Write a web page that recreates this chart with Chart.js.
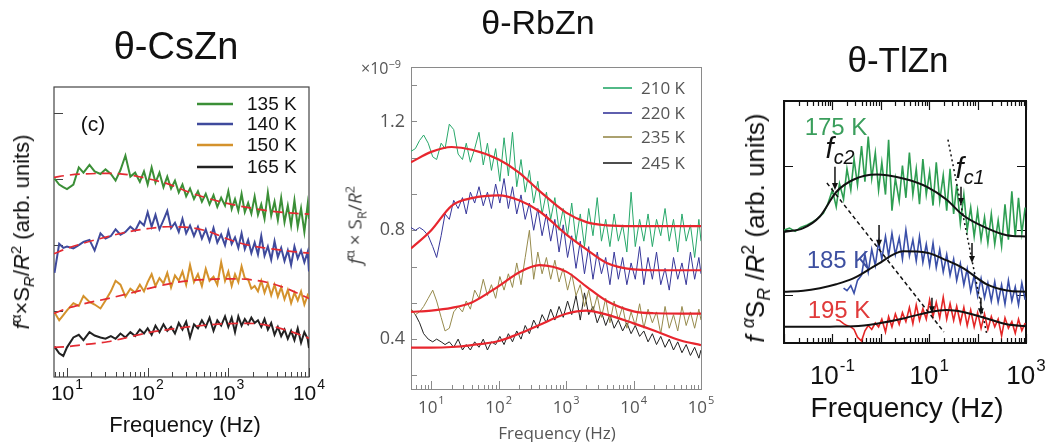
<!DOCTYPE html>
<html>
<head>
<meta charset="utf-8">
<script src="https://cdn.jsdelivr.net/npm/chart.js@4.4.1/dist/chart.umd.min.js"></script>
<style>
  body { margin: 0; background: #fff; }
  #wrap { position: relative; width: 1063px; height: 442px; overflow: hidden; font-family: "Liberation Sans", Arial, sans-serif; }
  canvas { position: absolute; left: 0; top: 0; }
  .t { position: absolute; white-space: nowrap; transform: translate(-50%, -50%); line-height: 1; color: #111; }
  .rot { transform: translate(-50%, -50%) rotate(-90deg); }
  .t sup, .t sub { font-size: 68%; line-height: 0; }
  .light { font-family: "Open Sans", "DejaVu Sans", sans-serif; color: #555; }
</style>
</head>
<body>
<div id="wrap">
  <canvas id="cs" width="1063" height="442"></canvas>
  <canvas id="rb" width="1063" height="442"></canvas>
  <canvas id="tl" width="1063" height="442"></canvas>

  <div class="t" style="left:176px;top:46px;font-size:38px">θ-CsZn</div>
  <div class="t rot" style="left:22px;top:232px;font-size:22px"><i>f</i><sup>α</sup>×S<sub><i>R</i></sub>/<i>R</i><sup>2</sup> (arb. units)</div>
  <div class="t" style="left:185px;top:425px;font-size:22px">Frequency (Hz)</div>
  <div class="t" style="left:93px;top:123px;font-size:21px">(c)</div>

  <div class="t" style="left:538px;top:22px;font-size:34px">θ-RbZn</div>
  <div class="t light" style="left:381px;top:68px;font-size:16px">×10<sup>−9</sup></div>
  <div class="t rot light" style="left:355px;top:225px;font-size:19px;color:#444"><i>f</i><sup>α</sup> × S<sub>R</sub>/<i>R</i><sup>2</sup></div>
  <div class="t light" style="left:557px;top:432px;font-size:17px">Frequency (Hz)</div>

  <div class="t" style="left:898px;top:59px;font-size:35px">θ-TlZn</div>
  <div class="t rot" style="left:755px;top:228px;font-size:26px"><i>f</i> <sup><i>α</i></sup>S<sub><i>R</i></sub> /<i>R</i><sup>2</sup> (arb. units)</div>
  <div class="t" style="left:907px;top:408px;font-size:28px">Frequency (Hz)</div>
  <div class="t" style="left:836px;top:127px;font-size:24px;color:#3a9e5c">175 K</div>
  <div class="t" style="left:838px;top:260px;font-size:24px;color:#3d4fa0">185 K</div>
  <div class="t" style="left:839px;top:310px;font-size:24px;color:#e03a3a">195 K</div>
  <div class="t" style="left:840px;top:148px;font-size:29px"><i>f</i><sub><i>c2</i></sub></div>
  <div class="t" style="left:970px;top:168px;font-size:29px"><i>f</i><sub><i>c1</i></sub></div>
</div>

<script>
// ---- θ-CsZn : noise spectra 135–165 K ----
const csFreq = [7, 8, 9, 10, 12, 14, 16, 19, 22, 26, 30, 35, 40, 46, 53, 61, 70, 80, 90,
  100, 112, 125, 140, 157, 175, 195, 218, 243, 270, 300, 335, 375, 420, 470, 525, 585, 655, 730, 815, 910,
  1000, 1100, 1210, 1330, 1460, 1600, 1760, 1930, 2120, 2330, 2560, 2810, 3090, 3400, 3740, 4110, 4520,
  4970, 5460, 6000, 6600, 7250, 7970, 8760, 9630, 10000];
const cs135 = [3.01, 2.92, 2.88, 2.85, 2.92, 3.18, 3.10, 3.22, 3.12, 3.08, 3.15, 3.08, 2.98, 3.14, 3.36, 3.04, 3.10, 2.96, 3.12,
  2.92, 3.18, 2.95, 3.10, 2.88, 3.04, 2.86, 2.98, 2.80, 2.92, 2.74, 2.86, 2.70, 2.82, 2.66, 2.78, 2.62, 2.76, 2.58, 2.72, 2.60,
  2.82, 2.55, 2.70, 2.52, 2.78, 2.50, 2.64, 2.48, 2.74, 2.46, 2.62, 2.40, 2.80, 2.45, 2.66, 2.38, 2.72, 2.35, 2.60, 2.30,
  2.68, 2.28, 2.56, 2.20, 2.62, 2.40];
const cs140 = [1.58, 2.02, 1.96, 1.98, 1.95, 2.00, 2.05, 2.08, 1.92, 2.18, 2.10, 2.14, 2.24, 2.16, 2.20, 2.28, 2.22, 2.36, 2.30,
  2.50, 2.28, 2.46, 2.24, 2.38, 2.52, 2.26, 2.34, 2.20, 2.40, 2.18, 2.30, 2.14, 2.28, 2.10, 2.24, 2.06, 2.26, 2.04, 2.16, 2.00,
  2.22, 2.02, 2.12, 1.96, 2.18, 1.94, 2.08, 1.88, 2.04, 1.86, 2.14, 1.84, 1.98, 1.78, 2.06, 1.82, 1.96, 1.76, 1.92, 1.70,
  1.98, 1.80, 1.92, 1.74, 1.90, 1.60];
const cs150 = [0.98, 0.86, 0.94, 1.01, 1.12, 1.08, 1.23, 1.14, 1.10, 1.04, 1.16, 1.30, 1.46, 1.40, 1.22, 1.34, 1.28, 1.40, 1.30,
  1.44, 1.56, 1.38, 1.50, 1.42, 1.58, 1.36, 1.54, 1.46, 1.60, 1.40, 1.70, 1.44, 1.56, 1.38, 1.64, 1.46, 1.52, 1.40, 1.74, 1.46,
  1.60, 1.38, 1.56, 1.44, 1.68, 1.50, 1.48, 1.34, 1.38, 1.30, 1.46, 1.28, 1.42, 1.24, 1.40, 1.22, 1.36, 1.18, 1.32, 1.12,
  1.28, 1.16, 1.30, 1.10, 1.24, 1.20];
const cs165 = [0.46, 0.36, 0.32, 0.45, 0.60, 0.64, 0.56, 0.68, 0.63, 0.60, 0.58, 0.62, 0.58, 0.66, 0.60, 0.68, 0.62, 0.72, 0.66,
  0.74, 0.64, 0.78, 0.68, 0.80, 0.70, 0.76, 0.66, 0.82, 0.72, 0.84, 0.60, 0.80, 0.74, 0.86, 0.76, 0.90, 0.70, 0.86, 0.78, 0.92,
  0.76, 0.90, 0.68, 0.92, 0.78, 0.88, 0.80, 0.90, 0.82, 0.86, 0.76, 0.88, 0.72, 0.82, 0.64, 0.76, 0.62, 0.72, 0.58, 0.70,
  0.56, 0.74, 0.52, 0.68, 0.58, 0.44];
// fitted curves (dashed red)
const csFitFreq = [6.9, 10, 16, 32, 56, 100, 178, 316, 562, 1000, 1778, 3162, 5623, 10000];
const csFit135 = [3.03, 3.06, 3.08, 3.09, 3.07, 3.01, 2.93, 2.81, 2.71, 2.63, 2.57, 2.52, 2.49, 2.47];
const csFit140 = [1.87, 1.95, 2.03, 2.13, 2.20, 2.25, 2.28, 2.27, 2.21, 2.09, 2.00, 1.95, 1.91, 1.88];
const csFit150 = [0.965, 1.04, 1.11, 1.19, 1.26, 1.34, 1.41, 1.46, 1.48, 1.49, 1.48, 1.43, 1.33, 1.19];
const csFit165 = [0.45, 0.46, 0.49, 0.535, 0.60, 0.67, 0.72, 0.76, 0.79, 0.81, 0.815, 0.78, 0.70, 0.59];
const csExps = ['1', '2', '3', '4'];
const csYTicks = [1, 2, 3, 4];

// ---- θ-RbZn : noise spectra 210–245 K ----
const rbFreq = [5, 5.8, 6.7, 7.7, 9, 10.5, 12, 14, 16, 18.5,
  21.5, 25, 29, 33, 38, 44, 51, 59, 68, 78,
  90, 104, 120, 139, 160, 185, 214, 247, 285, 330,
  380, 440, 510, 590, 680, 785, 905, 1050, 1210, 1400,
  1620, 1870, 2160, 2500, 2890, 3340, 3860, 4460, 5150, 5950,
  6880, 7950, 9190, 10600, 12300, 14200, 16400, 19000, 21900, 25300,
  29300, 33800, 39100, 45200, 52200, 60300, 69700, 80500, 93000, 100000];
const rb210 = [1.09, 1.10, 1.13, 1.15, 1.12, 1.07, 1.06, 1.12, 1.10, 1.19,
  1.17, 1.08, 1.06, 1.12, 1.05, 1.10, 1.16, 1.04, 1.12, 1.02,
  1.10, 0.98, 1.14, 1.00, 1.16, 0.96, 1.06, 0.94, 1.02, 0.90,
  0.98, 0.86, 0.94, 0.84, 0.92, 0.80, 0.88, 0.78, 0.90, 0.76,
  0.86, 0.74, 0.88, 0.78, 0.92, 0.76, 0.84, 0.74, 0.86, 0.76,
  0.82, 0.72, 0.94, 0.74, 0.84, 0.76, 0.86, 0.74, 0.84, 0.78,
  0.88, 0.76, 0.84, 0.72, 0.86, 0.76, 0.82, 0.70, 0.84, 0.76];
const rb220 = [0.81, 0.80, 0.81, 0.80, 0.78, 0.74, 0.70, 0.78, 0.86, 0.84,
  0.91, 0.88, 0.92, 0.86, 0.94, 0.90, 0.96, 0.89, 0.94, 0.88,
  0.97, 0.90, 0.99, 0.88, 0.96, 0.86, 0.93, 0.84, 0.90, 0.80,
  0.88, 0.78, 0.86, 0.76, 0.84, 0.72, 0.82, 0.70, 0.78, 0.66,
  0.76, 0.64, 0.74, 0.62, 0.72, 0.64, 0.70, 0.60, 0.72, 0.62,
  0.70, 0.60, 0.68, 0.62, 0.74, 0.60, 0.70, 0.62, 0.72, 0.60,
  0.66, 0.58, 0.70, 0.62, 0.68, 0.60, 0.72, 0.62, 0.70, 0.64];
const rb235 = [0.51, 0.49, 0.50, 0.52, 0.55, 0.58, 0.54, 0.48, 0.43, 0.44,
  0.50, 0.52, 0.50, 0.54, 0.51, 0.58, 0.55, 0.62, 0.56, 0.60,
  0.55, 0.63, 0.58, 0.64, 0.59, 0.68, 0.60, 0.70, 0.80, 0.62,
  0.72, 0.64, 0.70, 0.62, 0.69, 0.61, 0.66, 0.58, 0.64, 0.56,
  0.60, 0.52, 0.58, 0.50, 0.56, 0.48, 0.55, 0.46, 0.54, 0.47,
  0.52, 0.44, 0.50, 0.45, 0.53, 0.44, 0.51, 0.46, 0.50, 0.42,
  0.52, 0.44, 0.49, 0.43, 0.52, 0.45, 0.50, 0.44, 0.51, 0.47];
const rb245 = [0.51, 0.49, 0.46, 0.42, 0.40, 0.39, 0.40, 0.39, 0.38, 0.39,
  0.37, 0.40, 0.36, 0.38, 0.36, 0.39, 0.37, 0.40, 0.36, 0.39,
  0.38, 0.41, 0.38, 0.42, 0.39, 0.43, 0.40, 0.45, 0.42, 0.47,
  0.44, 0.49, 0.46, 0.51, 0.47, 0.52, 0.48, 0.54, 0.49, 0.56,
  0.47, 0.57, 0.49, 0.52, 0.46, 0.50, 0.45, 0.49, 0.44, 0.47,
  0.43, 0.46, 0.42, 0.45, 0.41, 0.43, 0.39, 0.42, 0.38, 0.41,
  0.37, 0.40, 0.36, 0.39, 0.35, 0.38, 0.34, 0.37, 0.33, 0.36];
const rbFitFreq = [5, 10, 20, 40, 100, 200, 400, 1000, 2000, 4000, 10000, 20000, 50000, 100000];
const rbFit210 = [1.05, 1.088, 1.106, 1.096, 1.06, 1.012, 0.945, 0.865, 0.83, 0.818, 0.815, 0.815, 0.815, 0.815];
const rbFit220 = [0.733, 0.80, 0.89, 0.918, 0.928, 0.91, 0.87, 0.785, 0.73, 0.68, 0.656, 0.653, 0.653, 0.653];
const rbFit235 = [0.50, 0.505, 0.515, 0.535, 0.595, 0.645, 0.672, 0.648, 0.593, 0.54, 0.502, 0.495, 0.494, 0.494];
const rbFit245 = [0.369, 0.369, 0.371, 0.378, 0.393, 0.42, 0.452, 0.493, 0.505, 0.49, 0.458, 0.432, 0.395, 0.378];
const rbExps = ['1', '2', '3', '4', '5'];
const rbYTicks = [0.2667, 0.4, 0.5333, 0.6667, 0.8, 0.9333, 1.0667, 1.2, 1.3333];
const rbYLabels = [0.4, 0.8, 1.2];

// ---- θ-TlZn : noise spectra 175–195 K ----
const tlFreq = [0.01, 0.013, 0.017, 0.022, 0.03, 0.04, 0.05, 0.065, 0.08, 0.1,
  0.12, 0.14, 0.17, 0.2, 0.24, 0.28, 0.33, 0.4, 0.47, 0.55,
  0.65, 0.77, 0.9, 1.05, 1.25, 1.45, 1.7, 2.0, 2.4, 2.8,
  3.3, 3.9, 4.6, 5.4, 6.3, 7.4, 8.7, 10.2, 12, 14,
  16.5, 19.5, 23, 27, 32, 37, 44, 52, 61, 72,
  85, 100, 118, 139, 163, 192, 226, 266, 313, 368,
  433, 510, 600, 700, 820, 960];
const tl175 = [2.00, 2.03, 1.98, 2.04, 2.08, 2.13, 2.18, 2.26, 2.40, 2.62,
  2.36, 2.72, 2.48, 2.95, 2.62, 3.10, 2.70, 3.30, 2.75, 3.45,
  2.80, 3.20, 2.62, 3.05, 2.55, 3.40, 2.30, 2.80, 2.45, 3.00,
  2.50, 3.20, 2.55, 2.95, 2.40, 3.10, 2.55, 2.90, 2.38, 3.05,
  2.45, 2.85, 2.30, 2.95, 2.25, 2.70, 2.10, 2.55, 2.00, 2.35,
  1.90, 2.30, 1.85, 2.20, 1.80, 2.25, 1.78, 2.15, 1.75, 2.40,
  1.85, 2.60, 1.90, 2.50, 1.95, 2.35];
const tl185 = [null, null, null, null, null, null, null, null, null, null,
  null, null, 1.10, 1.06, 1.14, 1.02, 1.22, 1.30, 1.62, 1.35,
  1.70, 1.45, 1.82, 1.55, 1.90, 1.60, 1.95, 1.62, 1.88, 1.55,
  2.00, 1.60, 1.85, 1.52, 1.90, 1.50, 1.78, 1.45, 1.80, 1.42,
  1.70, 1.35, 1.62, 1.30, 1.55, 1.22, 1.48, 1.15, 1.40, 1.05,
  1.30, 0.98, 1.25, 0.95, 1.18, 0.90, 1.20, 0.88, 1.15, 0.85,
  1.22, 0.90, 1.12, 0.84, 1.18, 0.92];
const tl195 = [null, null, null, null, null, null, null, null, null, null,
  0.61, 0.60, 0.55, 0.52, 0.50, 0.46, 0.34, 0.28, 0.44, 0.52,
  0.46, 0.56, 0.50, 0.62, 0.42, 0.66, 0.50, 0.70, 0.54, 0.72,
  0.58, 0.80, 0.55, 0.84, 0.60, 0.78, 0.62, 0.92, 0.66, 0.88,
  0.64, 0.96, 0.62, 0.86, 0.60, 0.82, 0.56, 0.80, 0.52, 0.76,
  0.50, 0.72, 0.48, 0.70, 0.46, 0.66, 0.50, 0.62, 0.36, 0.64,
  0.48, 0.58, 0.40, 0.62, 0.44, 0.56];
const tlFitFreq = [0.01, 0.025, 0.055, 0.12, 0.27, 0.82, 2.9, 9, 23, 50, 155, 400, 1000];
const tlFit175 = [1.97, 2.03, 2.21, 2.59, 2.78, 2.86, 2.80, 2.67, 2.47, 2.23, 2.03, 1.92, 1.90];
const tlFit185 = [1.045, 1.06, 1.10, 1.16, 1.25, 1.46, 1.67, 1.65, 1.53, 1.41, 1.16, 1.065, 1.045];
const tlFit195 = [0.50, 0.50, 0.50, 0.505, 0.51, 0.55, 0.63, 0.72, 0.76, 0.73, 0.63, 0.54, 0.51];
// corner-frequency guides and arrows
const fc2Freq = [0.077, 20.2], fc2Val = [2.73, 0.42];
const fc1Freq = [24.4, 156], fc1Val = [3.40, 0.37];
const arrowFreq = [0.113, 45.4, 0.92, 76.6, 11.4, 117];
const arrowTail = [2.98, 2.67, 2.08, 1.80, 0.95, 0.95];
const arrowTip = [2.62, 2.39, 1.74, 1.49, 0.71, 0.68];
const tlExps = ['-1', '1', '3'];
const tlYTicks = [1, 2, 3];

const SANS = '"Liberation Sans", Arial, sans-serif';
const LIGHT = '"Open Sans", "DejaVu Sans", sans-serif';

function pts(xs, ys) { return xs.map((x, i) => ({ x: x, y: ys[i] })); }

function trace(label, xs, ys, color, width, key) {
  return { label: label, data: pts(xs, ys), borderColor: color, borderWidth: width,
    pointRadius: 0, tension: 0, order: 1, key: key };
}
function fit(xs, ys, color, width, dash) {
  return { data: pts(xs, ys), borderColor: color, borderWidth: width, borderDash: dash || [],
    pointRadius: 0, cubicInterpolationMode: 'monotone', order: 0 };
}

// "10" with a raised exponent, centred on x
function powLabel(ctx, x, y, exp, size, font, color) {
  ctx.save();
  ctx.fillStyle = color;
  ctx.textBaseline = 'middle';
  ctx.textAlign = 'left';
  ctx.font = size + 'px ' + font;
  const wb = ctx.measureText('10').width;
  const ss = Math.round(size * 0.66);
  ctx.font = ss + 'px ' + font;
  const we = ctx.measureText(exp).width;
  const x0 = x - (wb + we + 1) / 2;
  ctx.font = size + 'px ' + font;
  ctx.fillText('10', x0, y);
  ctx.font = ss + 'px ' + font;
  ctx.fillText(exp, x0 + wb + 1, y - size * 0.42);
  ctx.restore();
}

// inward log ticks along a horizontal edge
function logTicks(ctx, scale, edge, dir, majLen, minLen) {
  const lo = Math.floor(Math.log10(scale.min)), hi = Math.ceil(Math.log10(scale.max));
  for (let d = lo; d <= hi; d++) {
    for (let m = 1; m < 10; m++) {
      const f = m * Math.pow(10, d);
      if (f < scale.min * 0.999 || f > scale.max * 1.001) continue;
      const px = Math.round(scale.getPixelForValue(f)) + 0.5;
      ctx.moveTo(px, edge);
      ctx.lineTo(px, edge + dir * (m === 1 ? majLen : minLen));
    }
  }
}
function yTicks(ctx, scale, edge, dir, len, values) {
  values.forEach(v => {
    const py = Math.round(scale.getPixelForValue(v)) + 0.5;
    ctx.moveTo(edge, py);
    ctx.lineTo(edge + dir * len, py);
  });
}

function drawKey(chart, x0, x1, xt, rows, size, font, textColor, lw) {
  const ctx = chart.ctx;
  const keys = chart.data.datasets.filter(d => d.key);
  ctx.save();
  ctx.textBaseline = 'middle';
  ctx.textAlign = 'left';
  ctx.font = size + 'px ' + font;
  keys.forEach((d, i) => {
    ctx.strokeStyle = d.borderColor;
    ctx.lineWidth = lw;
    ctx.beginPath();
    ctx.moveTo(x0, rows[i]);
    ctx.lineTo(x1, rows[i]);
    ctx.stroke();
    ctx.fillStyle = textColor;
    ctx.fillText(d.label, xt, rows[i] + 1);
  });
  ctx.restore();
}

function baseOptions(pad, xmin, xmax, ymin, ymax) {
  return {
    responsive: false,
    animation: false,
    events: [],
    layout: { padding: pad },
    plugins: { legend: { display: false }, tooltip: { enabled: false } },
    scales: {
      x: { type: 'logarithmic', min: xmin, max: xmax, display: false },
      y: { type: 'linear', min: ymin, max: ymax, display: false }
    }
  };
}

// ---------- θ-CsZn ----------
const RED_DASH = '#e42a32';
new Chart(document.getElementById('cs'), {
  type: 'line',
  data: {
    datasets: [
      trace('135 K', csFreq, cs135, '#3b8f37', 2, true),
      trace('140 K', csFreq, cs140, '#3f4a9c', 2, true),
      trace('150 K', csFreq, cs150, '#d4922c', 2, true),
      trace('165 K', csFreq, cs165, '#222222', 2, true),
      fit(csFitFreq, csFit135, RED_DASH, 1.7, [10, 6]),
      fit(csFitFreq, csFit140, RED_DASH, 1.7, [10, 6]),
      fit(csFitFreq, csFit150, RED_DASH, 1.7, [10, 6]),
      fit(csFitFreq, csFit165, RED_DASH, 1.7, [10, 6])
    ]
  },
  options: baseOptions({ left: 54, top: 87, right: 754, bottom: 65 }, 6.9, 10000, 0, 4.4),
  plugins: [{
    id: 'csFrame',
    beforeDatasetsDraw(chart) {
      const { ctx, chartArea: a, scales: { x, y } } = chart;
      ctx.save();
      ctx.strokeStyle = '#444';
      ctx.lineWidth = 1.2;
      ctx.strokeRect(a.left, a.top, a.width, a.height);
      ctx.beginPath();
      ctx.lineWidth = 1;
      logTicks(ctx, x, a.bottom, -1, 9, 5);
      yTicks(ctx, y, a.left, 1, 9, csYTicks);
      ctx.stroke();
      ctx.restore();
    },
    afterDraw(chart) {
      const x = chart.scales.x;
      csExps.forEach(e => powLabel(chart.ctx, x.getPixelForValue(Math.pow(10, +e)), 394, e, 21, SANS, '#111'));
      drawKey(chart, 197, 233, 247, [104, 124, 145, 167], 19, SANS, '#111', 2.6);
    }
  }]
});

// ---------- θ-RbZn ----------
const RED_FIT = '#e8262e';
new Chart(document.getElementById('rb'), {
  type: 'line',
  data: {
    datasets: [
      trace('210 K', rbFreq, rb210, '#27a86a', 1, true),
      trace('220 K', rbFreq, rb220, '#37379a', 1, true),
      trace('235 K', rbFreq, rb235, '#968a4c', 1, true),
      trace('245 K', rbFreq, rb245, '#222222', 1, true),
      fit(rbFitFreq, rbFit210, RED_FIT, 2.2),
      fit(rbFitFreq, rbFit220, RED_FIT, 2.2),
      fit(rbFitFreq, rbFit235, RED_FIT, 2.2),
      fit(rbFitFreq, rbFit245, RED_FIT, 2.2)
    ]
  },
  options: baseOptions({ left: 411, top: 67, right: 362, bottom: 53 }, 5, 100000, 0.2167, 1.4),
  plugins: [{
    id: 'rbFrame',
    beforeDatasetsDraw(chart) {
      const { ctx, chartArea: a, scales: { x, y } } = chart;
      ctx.save();
      ctx.strokeStyle = '#8a8a8a';
      ctx.lineWidth = 1;
      ctx.strokeRect(a.left + 0.5, a.top + 0.5, a.width, a.height);
      ctx.beginPath();
      logTicks(ctx, x, a.bottom, -1, 8, 4);
      yTicks(ctx, y, a.left, 1, 6, rbYTicks);
      ctx.stroke();
      ctx.restore();
    },
    afterDraw(chart) {
      const { ctx, chartArea: a, scales: { x, y } } = chart;
      rbExps.forEach(e => powLabel(ctx, x.getPixelForValue(Math.pow(10, +e)), 408, e, 17, LIGHT, '#555'));
      ctx.save();
      ctx.fillStyle = '#555';
      ctx.font = '18px ' + LIGHT;
      ctx.textAlign = 'right';
      ctx.textBaseline = 'middle';
      rbYLabels.forEach(v => ctx.fillText(v.toFixed(1), a.left - 6, y.getPixelForValue(v)));
      ctx.restore();
      drawKey(chart, 603, 632, 641, [88, 113, 137, 163], 17, LIGHT, '#555', 1.6);
    }
  }]
});

// ---------- θ-TlZn ----------
new Chart(document.getElementById('tl'), {
  type: 'line',
  data: {
    datasets: [
      trace('175 K', tlFreq, tl175, '#2e9e52', 1.6, false),
      trace('185 K', tlFreq, tl185, '#3a4fa8', 1.6, false),
      trace('195 K', tlFreq, tl195, '#e42626', 1.6, false),
      fit(tlFitFreq, tlFit175, '#111', 2),
      fit(tlFitFreq, tlFit185, '#111', 2),
      fit(tlFitFreq, tlFit195, '#111', 2),
      { data: pts(fc2Freq, fc2Val), borderColor: '#111', borderWidth: 1.5, borderDash: [4, 3], pointRadius: 0, order: 0 },
      { data: pts(fc1Freq, fc1Val), borderColor: '#111', borderWidth: 1.5, borderDash: [2, 3], pointRadius: 0, order: 0 }
    ]
  },
  options: baseOptions({ left: 784, top: 101, right: 37, bottom: 99 }, 0.01, 1000, 0.25, 4.0),
  plugins: [{
    id: 'tlFrame',
    beforeDatasetsDraw(chart) {
      const { ctx, chartArea: a, scales: { x, y } } = chart;
      ctx.save();
      ctx.strokeStyle = '#111';
      ctx.lineWidth = 1.2;
      ctx.beginPath();
      logTicks(ctx, x, a.bottom, -1, 9, 5);
      logTicks(ctx, x, a.top, 1, 9, 5);
      yTicks(ctx, y, a.left, 1, 9, tlYTicks);
      yTicks(ctx, y, a.right, -1, 9, tlYTicks);
      ctx.stroke();
      ctx.lineWidth = 2;
      ctx.strokeRect(a.left, a.top, a.width, a.height);
      ctx.restore();
    },
    afterDraw(chart) {
      const { ctx, scales: { x, y } } = chart;
      tlExps.forEach(e => powLabel(ctx, x.getPixelForValue(Math.pow(10, +e)), 377, e, 26, SANS, '#111'));
      ctx.save();
      ctx.strokeStyle = '#111';
      ctx.fillStyle = '#111';
      ctx.lineWidth = 1.5;
      arrowFreq.forEach((f, i) => {
        const px = x.getPixelForValue(f);
        const y0 = y.getPixelForValue(arrowTail[i]);
        const y1 = y.getPixelForValue(arrowTip[i]);
        ctx.beginPath();
        ctx.moveTo(px, y0);
        ctx.lineTo(px, y1 - 5);
        ctx.stroke();
        ctx.beginPath();
        ctx.moveTo(px - 3, y1 - 7);
        ctx.lineTo(px + 3, y1 - 7);
        ctx.lineTo(px, y1);
        ctx.closePath();
        ctx.fill();
      });
      ctx.restore();
    }
  }]
});
</script>
</body>
</html>
